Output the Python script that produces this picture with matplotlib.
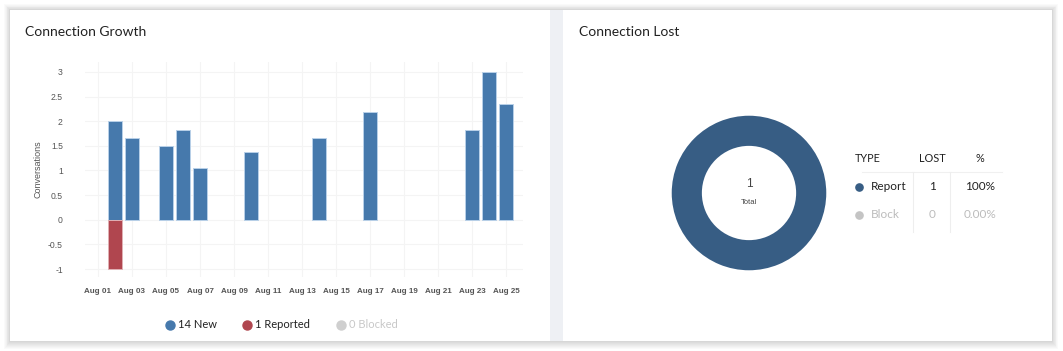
import matplotlib.pyplot as plt
from matplotlib.patches import Rectangle
from matplotlib.lines import Line2D

# data
days = [2, 3, 5, 6, 7, 10, 14, 17, 23, 24, 25]          # day of August
new_vals = [2.0, 1.65, 1.5, 1.83, 1.06, 1.37, 1.65, 2.18, 1.83, 3.0, 2.35]
reported_days = [2]
reported_vals = [-1.0]
tick_days = list(range(1, 26, 2))
tick_labels = ['Aug %02d' % d for d in tick_days]
y_ticks = [-1, -0.5, 0, 0.5, 1, 1.5, 2, 2.5, 3]
y_tick_labels = ['-1', '-0.5', '0', '0.5', '1', '1.5', '2', '2.5', '3']
legend_items = ['14 New', '1 Reported', '0 Blocked']

lost_types = ['Report', 'Block']
lost_counts = [1, 0]
lost_pct = ['100%', '0.00%']
lost_total = 1

W, H = 1063, 351
fig = plt.figure(figsize=(W / 100, H / 100), dpi=100)
fig.patch.set_facecolor('white')


def fx(x):
    return x / W


def fy(y):
    return 1 - y / H


BLUE = '#4679ac'
RED = '#b0464f'
GREY = '#cfcfcf'
DONUT = '#375d84'

# soft card shadow + card + divider
for d in range(8, 0, -1):
    fig.patches.append(Rectangle((fx(10 - d * 0.7), fy(341 + d)), fx(1042 + d * 1.4), (331 + d * 1.7) / H,
                                 transform=fig.transFigure, facecolor='black', alpha=0.018,
                                 edgecolor='none', zorder=0))
fig.patches.append(Rectangle((fx(10), fy(341)), fx(1042), 331 / H, transform=fig.transFigure,
                             facecolor='white', edgecolor='none', zorder=1))
fig.patches.append(Rectangle((fx(550), fy(341)), fx(13), 331 / H, transform=fig.transFigure,
                             facecolor='#eef0f4', edgecolor='none', zorder=2))

fig.text(fx(25), fy(32), 'Connection Growth', family='Lato', fontsize=10, color='#222222',
         va='center', ha='left', zorder=5)
fig.text(fx(579), fy(32), 'Connection Lost', family='Lato', fontsize=10, color='#222222',
         va='center', ha='left', zorder=5)

# bar chart
ax = fig.add_axes([fx(85), fy(277), fx(438), 215 / H], zorder=3)
ax.set_facecolor('none')
ax.bar(days, new_vals, width=0.82, color=BLUE, edgecolor='#b8d0e8', linewidth=0.7, zorder=3)
ax.bar(reported_days, reported_vals, width=0.82, color=RED, edgecolor='#e0b0b4', linewidth=0.7, zorder=3)
ax.set_xlim(0.24, 26.0)
ax.set_ylim(-1.16, 3.2)
ax.set_xticks(tick_days)
ax.set_xticklabels(tick_labels, fontsize=5.8, fontweight='bold', color='#555555', family='Liberation Sans')
ax.set_yticks(y_ticks)
ax.set_yticklabels(y_tick_labels, fontsize=6.2, color='#555555', family='Liberation Sans')
ax.tick_params(length=0, pad=8)
ax.tick_params(axis='y', pad=16)
for s in ax.spines.values():
    s.set_visible(False)
ax.grid(True, color='#f4f4f4', linewidth=0.8, zorder=0)
ax.set_axisbelow(True)
ax.set_ylabel('Conversations', fontsize=6.5, color='#555555', family='Liberation Sans', labelpad=4)

# legend
leg_colors = [BLUE, RED, GREY]
leg_text_colors = ['#222222', '#222222', '#c8c8c8']
leg_x = [170, 247, 341]
for c, tc, x, lab in zip(leg_colors, leg_text_colors, leg_x, legend_items):
    fig.lines.append(Line2D([fx(x)], [fy(325)], marker='o', markersize=6.5, color=c,
                            transform=fig.transFigure, zorder=5))
    fig.text(fx(x + 8), fy(325), lab, family='Lato', fontsize=8, color=tc, va='center', ha='left', zorder=5)

# donut
dax = fig.add_axes([fx(749 - 85), fy(193 + 85), fx(170), 170 / H], zorder=3)
dax.pie(lost_counts, colors=[DONUT, GREY], startangle=90, counterclock=False,
        wedgeprops=dict(width=0.39, edgecolor='none'))
dax.set_xlim(-1.1, 1.1)
dax.set_ylim(-1.1, 1.1)
dax.set_aspect('equal')
dax.axis('off')
dax.text(0, 0.12, str(lost_total), ha='center', va='center', fontsize=8.5, color='#444444',
         family='Liberation Sans')
dax.text(0, -0.12, 'Total', ha='center', va='center', fontsize=5.5, color='#444444',
         family='Liberation Sans')

# table
hdr_y = 158
fig.text(fx(855), fy(hdr_y), 'TYPE', family='Lato', fontsize=7.8, color='#222222', va='center', ha='left')
fig.text(fx(932), fy(hdr_y), 'LOST', family='Lato', fontsize=7.8, color='#222222', va='center', ha='center')
fig.text(fx(980), fy(hdr_y), '%', family='Lato', fontsize=7.8, color='#222222', va='center', ha='center')
fig.lines.append(Line2D([fx(862), fx(1002)], [fy(172), fy(172)], color='#f0f0f0', linewidth=0.8,
                        transform=fig.transFigure))
for x in [913, 950]:
    fig.lines.append(Line2D([fx(x), fx(x)], [fy(172), fy(232)], color='#eeeeee', linewidth=0.8,
                            transform=fig.transFigure))
row_y = [187, 215]
row_dot = [DONUT, '#c4c4c4']
row_txt = ['#222222', '#bcbcbc']
for y, t, n, p, dc, tc in zip(row_y, lost_types, lost_counts, lost_pct, row_dot, row_txt):
    fig.lines.append(Line2D([fx(859)], [fy(y)], marker='o', markersize=5.2, color=dc,
                            transform=fig.transFigure))
    fig.text(fx(871), fy(y), t, family='Lato', fontsize=8.5, color=tc, va='center', ha='left')
    fig.text(fx(932), fy(y), str(n), family='Lato', fontsize=8.5, color=tc, va='center', ha='center')
    fig.text(fx(980), fy(y), p, family='Lato', fontsize=8.5, color=tc, va='center', ha='center')

fig.savefig('out.png', dpi=100)
